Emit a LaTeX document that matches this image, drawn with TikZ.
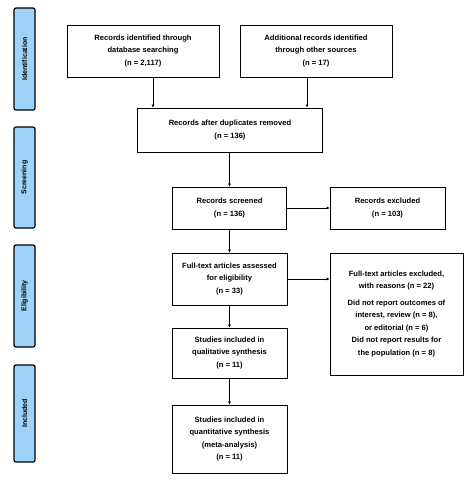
\documentclass[tikz,border=0pt]{standalone}
\usepackage{fontspec}
\setmainfont{Liberation Sans}
\usetikzlibrary{arrows.meta}
\definecolor{barblue}{RGB}{158,210,248}
\tikzset{
  flowbox/.style={draw, thick, rectangle, align=center, inner sep=2pt,
    font=\fontsize{7.6}{12.5}\selectfont\bfseries},
  phasebar/.style={draw, very thick, fill=barblue, rounded corners=2pt,
    minimum height=21pt, rotate=90, font=\fontsize{7}{8}\selectfont\bfseries},
  flowarrow/.style={-{Latex[length=3pt,width=3pt]}, thick}
}
\begin{document}
\begin{tikzpicture}[x=1pt, y=-1pt]
\useasboundingbox (0,0) rectangle (472,480);
% Faixas laterais das fases (com rotate, a largura fica na vertical)
\node[phasebar, minimum width=102pt] (fident) at (24.5,59) {Identification};
\node[phasebar, minimum width=101pt] (fscreen) at (24.5,177.5) {Screening};
\node[phasebar, minimum width=102pt] (felig) at (24.5,296) {Eligibility};
\node[phasebar, minimum width=97pt] (fincl) at (24.5,413.5) {Included};
% Identificacao
\node[flowbox, minimum width=152pt, minimum height=52pt] (dbsearch) at (143,51)
  {Records identified through\\database searching\\(n = 2,117)};
\node[flowbox, minimum width=152pt, minimum height=52pt] (othersrc) at (316,51)
  {Additional records identified\\through other sources\\(n = 17)};
% Triagem
\node[flowbox, minimum width=185pt, minimum height=44pt] (dedup) at (230,130)
  {Records after duplicates removed\\(n = 136)};
\node[flowbox, minimum width=114pt, minimum height=42pt] (screened) at (229.5,208)
  {Records screened\\(n = 136)};
\node[flowbox, minimum width=115pt, minimum height=42pt] (excluded) at (387.5,208)
  {Records excluded\\(n = 103)};
% Elegibilidade
\node[flowbox, minimum width=115pt, minimum height=52pt] (fulltext) at (229.5,279)
  {Full-text articles assessed\\for eligibility\\(n = 33)};
\node[flowbox, minimum width=133pt, minimum height=122pt] (reasons) at (396.5,314)
  {Full-text articles excluded,\\with reasons (n = 22)\\[4pt]
   Did not report outcomes of\\interest, review (n = 8),\\or editorial (n = 6)\\
   Did not report results for\\the population (n = 8)};
% Incluidos
\node[flowbox, minimum width=115pt, minimum height=50pt] (qualit) at (229.5,353)
  {Studies included in\\qualitative synthesis\\(n = 11)};
\node[flowbox, minimum width=115pt, minimum height=68pt] (quantit) at (229.5,439)
  {Studies included in\\quantitative synthesis\\(meta-analysis)\\(n = 11)};
% Setas entre as caixas
\draw[flowarrow] ([xshift=10pt]dbsearch.south) -- ([xshift=10pt]dbsearch.south |- dedup.north);
\draw[flowarrow] ([xshift=-9pt]othersrc.south) -- ([xshift=-9pt]othersrc.south |- dedup.north);
\draw[flowarrow] (dedup.south -| screened) -- (screened.north);
\draw[flowarrow] (screened.east) -- (excluded.west);
\draw[flowarrow] (screened.south) -- (fulltext.north);
\draw[flowarrow] (fulltext.east) -- (fulltext.east -| reasons.west);
\draw[flowarrow] (fulltext.south) -- (qualit.north);
\draw[flowarrow] (qualit.south) -- (quantit.north);
\end{tikzpicture}
\end{document}
